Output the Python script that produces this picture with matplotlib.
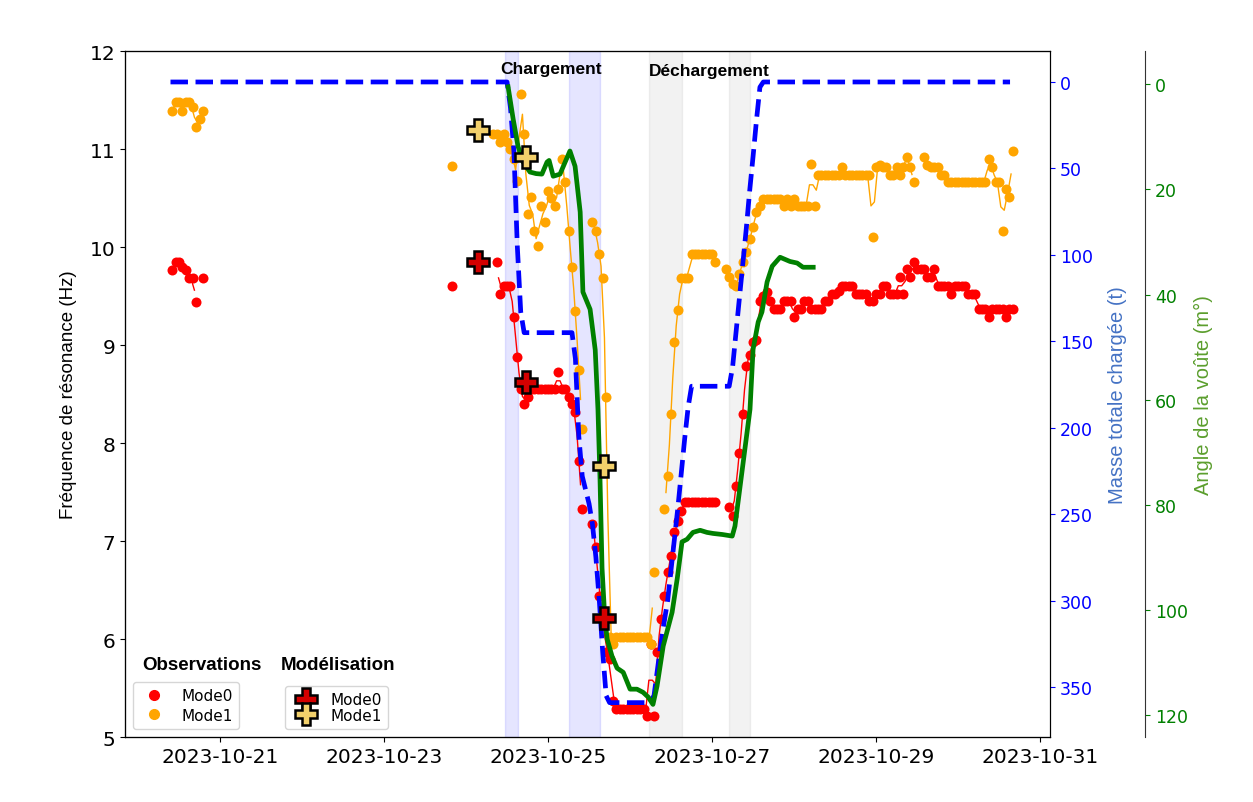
import numpy as np
import pandas as pd
import matplotlib
matplotlib.use("Agg")
import matplotlib.pyplot as plt
import matplotlib.dates as mdates
from matplotlib.lines import Line2D

nan = np.nan
t0 = pd.Timestamp("2023-10-20")  # hours below are counted from this date

# --- observed resonance frequencies (Hz), hourly blocks: (first hour, values) ---
mode0_starts = [10, 92, 105, 133, 173]
mode0_blocks = [
    [9.77, 9.85, 9.85, 9.80, 9.77, 9.68, 9.68, 9.44, nan, 9.68],
    [9.60],
    [9.85, 9.52, 9.60, 9.60, 9.60, 9.29, 8.88, 8.55, 8.40, 8.47, 8.55, 8.55, 8.55,
     8.55, 8.55, 8.55, 8.55, 8.55, 8.72, 8.55, 8.55, 8.47, 8.40, 8.32, 7.82, 7.33],
    [7.17, 6.94, 6.44, 6.23, 5.87, 5.80, 5.37, 5.29, 5.29, 5.29, 5.29, 5.29, 5.29,
     5.29, 5.29, 5.29, 5.21, 5.95, 5.21, 5.87, 6.20, 6.44, 6.68, 6.85, 7.09, 7.20,
     7.31, 7.40, 7.40, 7.40, 7.40, 7.40, 7.40, 7.40, 7.40, 7.40, 7.40],
    [7.35, 7.26, 7.56, 7.90, 8.30, 8.79, 8.90, 9.03, 9.05, 9.45, 9.50, 9.54, 9.45,
     9.37, 9.37, 9.37, 9.45, 9.45, 9.45, 9.29, 9.37, 9.37, 9.45, 9.45, 9.37, 9.37,
     9.37, 9.37, 9.45, 9.45, 9.52, 9.52, 9.55, 9.60, 9.60, 9.60, 9.60, 9.52, 9.52,
     9.52, 9.52, 9.45, 9.45, 9.52, 9.52, 9.60, 9.60, 9.52, 9.52, 9.52, 9.69, 9.52,
     9.78, 9.69, 9.85, 9.78, 9.78, 9.78, 9.69, 9.69, 9.78, 9.60, 9.60, 9.60, 9.60,
     9.52, 9.60, 9.60, 9.60, 9.60, 9.52, 9.52, 9.52, 9.37, 9.37, 9.37, 9.29, 9.37,
     9.37, 9.37, 9.37, 9.29, 9.37, 9.37],
]

mode1_starts = [10, 92, 104, 133, 154, 172, 230]
mode1_blocks = [
    [11.39, 11.48, 11.48, 11.39, 11.48, 11.48, 11.43, 11.22, 11.31, 11.39],
    [10.83],
    [11.15, 11.15, 11.07, 11.15, 11.07, 11.00, 10.90, 10.67, 11.56, 11.15, 10.34,
     10.51, 10.16, 10.01, 10.42, 10.26, 10.57, 10.50, 10.42, 10.59, 10.90, 10.66,
     10.16, 9.80, 9.35, 8.75, 8.14],
    [10.26, 10.16, 9.93, 9.68, 8.47, 6.02, 5.95, 6.02, 6.02, 6.02, 6.02, 6.02, 6.02,
     6.02, 6.02, 6.02, 6.02, 5.95, 6.68],
    [7.33, 7.66, 8.30, 9.03, 9.36, 9.68, 9.68, 9.68, 9.93, 9.93, 9.93, 9.93, 9.93,
     9.93, 9.93, 9.85],
    [9.78, 9.69, 9.62, 9.60, 9.72, 9.85, 9.95, 10.08, 10.20, 10.36, 10.42, 10.49,
     10.49, 10.49, 10.49, 10.49, 10.49, 10.42, 10.49, 10.42, 10.49, 10.42, 10.42,
     10.42, 10.42, 10.85, 10.42, 10.74, 10.74, 10.74, 10.74, 10.74, 10.74, 10.74,
     10.82, 10.74, 10.74, 10.74, 10.74, 10.74, 10.74, 10.74, 10.74, 10.10, 10.82,
     10.84, 10.82, 10.82, 10.74, 10.74, 10.82, 10.74, 10.82, 10.92, 10.82, 10.66],
    [10.92, 10.84, 10.82, 10.82, 10.82, 10.74, 10.74, 10.66, 10.66, 10.66, 10.66,
     10.66, 10.66, 10.66, 10.66, 10.66, 10.66, 10.66, 10.66, 10.90, 10.82, 10.66,
     10.66, 10.16, 10.59, 10.51, 10.98],
]

# --- model predictions ---
model_hours = [99.5, 113.6, 136.3]
model_mode0 = [9.85, 8.62, 6.21]
model_mode1 = [11.19, 10.92, 7.77]

# --- total loaded mass (t) ---
mass_hours = [9.5, 108, 109, 110, 111, 112, 113, 127, 128, 129, 130, 131, 132, 133,
              134, 135, 136, 137, 138, 149, 150, 151, 152, 153, 154, 155, 156, 157,
              158, 159, 160, 161, 162, 173, 174, 175, 176, 177, 178, 179, 180, 181,
              182, 183, 255.2]
mass_t = [0, 0, 15, 40, 95, 133, 145, 145, 160, 205, 228, 236, 244, 256,
          275, 300, 330, 355, 359, 359, 358, 355, 340, 325, 312, 300, 282, 264,
          246, 226, 206, 188, 176, 176, 165, 145, 125, 105, 85, 63, 43, 22,
          3, 0, 0]

# --- arch angle (m°) ---
angle_hours = [108.3, 109.8, 111.2, 112.7, 114.7, 116.5, 118.2, 119.7, 120.3, 121.5,
               123.5, 125.0, 126.4, 127.9, 129.4, 130.2, 132.3, 133.8, 134.6, 135.2,
               135.8, 136.6, 137.3, 138.7, 140.2, 142.0, 144.0, 146.0, 147.8, 149.3,
               150.7, 151.9, 153.7, 156.3, 157.8, 159.2, 160.7, 162.4, 164.5, 166.5,
               168.3, 171.0, 173.9, 174.7, 177.1, 179.1, 180.0, 181.5, 182.6, 184.1,
               185.6, 187.9, 190.8, 192.9, 194.6, 197.6]
angle_deg = [0.5, 6.7, 11.8, 14.8, 16.7, 17.0, 17.1, 14.8, 14.5, 17.5,
             17.1, 14.8, 12.7, 15.6, 24.3, 39.5, 42.8, 50.5, 61.8, 75.0,
             92.0, 101.5, 105.5, 108.7, 111.0, 111.8, 115.0, 115.0, 115.6, 116.5,
             117.9, 114.4, 106.8, 100.4, 94.0, 87.0, 86.5, 85.2, 84.8, 85.2,
             85.4, 85.6, 85.9, 84.0, 71.9, 61.8, 50.4, 45.2, 43.3, 37.6,
             34.6, 32.9, 33.7, 34.0, 34.8, 34.8]

# loading / unloading periods (hours)
charge_spans = [(107.4, 111.2), (126.1, 135.2)]
decharge_spans = [(149.6, 159.2), (173.0, 179.1)]


def to_time(hours):
    return t0 + pd.to_timedelta(np.asarray(hours, dtype=float), unit="h")


def hourly_series(starts, blocks):
    idx, vals = [], []
    for s, b in zip(starts, blocks):
        idx += list(range(s, s + len(b)))
        vals += b
    s = pd.Series(vals, index=idx, dtype=float)
    return s.reindex(range(min(idx), max(idx) + 1))


fig = plt.figure(figsize=(12.53, 8.03), dpi=100)
ax = fig.add_axes([0.0998, 0.0809, 0.7382, 0.8543])

for a, b in charge_spans:
    ax.axvspan(to_time(a), to_time(b), color="blue", alpha=0.1)
for a, b in decharge_spans:
    ax.axvspan(to_time(a), to_time(b), color="grey", alpha=0.1)

for starts, blocks, col in [(mode0_starts, mode0_blocks, "red"),
                            (mode1_starts, mode1_blocks, "orange")]:
    s = hourly_series(starts, blocks)
    smooth = s.rolling(2).mean()
    ax.plot(to_time(s.index), s.values, "o", color=col, ms=7.2, mec="none")
    ax.plot(to_time(smooth.index - 0.5), smooth.values, "-", color=col, lw=1)

ax.set_ylim(5, 12)
ax.set_xlim(to_time(-3.8), to_time(266.9))
ax.xaxis.set_major_locator(mdates.DayLocator(bymonthday=[21, 23, 25, 27, 29, 31]))
ax.xaxis.set_major_formatter(mdates.DateFormatter("%Y-%m-%d"))
ax.tick_params(labelsize=14.5)
ax.set_ylabel("Fréquence de résonance (Hz)", fontsize=13.5, family="Liberation Sans",
              labelpad=9)

ax.text(to_time(120.9), 11.82, "Chargement", ha="center", va="center",
        fontsize=12.5, fontweight="bold", family="Liberation Sans")
ax.text(to_time(167.1), 11.8, "Déchargement", ha="center", va="center",
        fontsize=12.5, fontweight="bold", family="Liberation Sans")

# mass axis
ax2 = ax.twinx()
ax2.plot(to_time(mass_hours), mass_t, "--", color="blue", lw=3.4)
ax2.set_ylim(378.9, -17.9)
ax2.set_yticks(np.arange(0, 351, 50))
ax2.tick_params(axis="y", colors="blue", labelsize=12.5)
ax2.spines["right"].set_color("black")
ax2.set_ylabel("Masse totale chargée (t)", color="#4472c4", fontsize=14.5,
               family="Liberation Sans", labelpad=11)

# angle axis
ax3 = ax.twinx()
ax3.spines["right"].set_position(("axes", 1.103))
ax3.plot(to_time(angle_hours), angle_deg, "-", color="green", lw=3.4)
ax3.set_ylim(124.1, -6.3)
ax3.set_yticks(np.arange(0, 121, 20))
ax3.tick_params(axis="y", colors="green", labelsize=12.5)
ax3.spines["right"].set_color("#333333")
ax3.set_ylabel("Angle de la voûte (m°)", color="#5b9e2d", fontsize=14.5,
               family="Liberation Sans")

# model crosses and legends on top of everything
ax4 = ax.twinx()
ax4.set_ylim(5, 12)
ax4.set_axis_off()
ax4.plot(to_time(model_hours), model_mode0, "P", ms=16, mfc="#d40000", mec="black", mew=1.8)
ax4.plot(to_time(model_hours), model_mode1, "P", ms=16, mfc="#f2d06b", mec="black", mew=1.8)

obs_handles = [Line2D([], [], marker="o", ls="none", color="red", ms=7),
               Line2D([], [], marker="o", ls="none", color="orange", ms=7)]
mod_handles = [Line2D([], [], marker="P", ls="none", ms=16, mfc="#d40000", mec="black", mew=1.8),
               Line2D([], [], marker="P", ls="none", ms=16, mfc="#f2d06b", mec="black", mew=1.8)]
leg1 = ax4.legend(obs_handles, ["Mode0", "Mode1"], loc="lower left",
                  bbox_to_anchor=(0.0086, 0.012), borderaxespad=0, fontsize=11,
                  labelspacing=0.3)
ax4.add_artist(leg1)
ax4.legend(mod_handles, ["Mode0", "Mode1"], loc="lower left",
           bbox_to_anchor=(0.173, 0.012), borderaxespad=0, fontsize=11,
           labelspacing=0.02, handlelength=2.0, handletextpad=0.6)
ax4.text(0.083, 0.106, "Observations", transform=ax4.transAxes, ha="center",
         va="center", fontsize=13.5, fontweight="bold", family="Liberation Sans")
ax4.text(0.230, 0.106, "Modélisation", transform=ax4.transAxes, ha="center",
         va="center", fontsize=13.5, fontweight="bold", family="Liberation Sans")

fig.savefig("out.png", dpi=100)
